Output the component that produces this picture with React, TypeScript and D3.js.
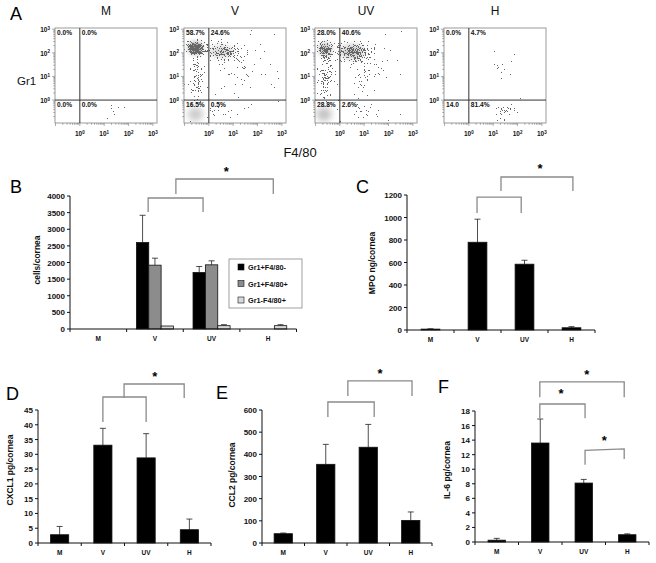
import React from "react";
import * as d3 from "d3";

// ---------- DATA ----------
const groups = ["M", "V", "UV", "H"];

// Panel A: flow cytometry quadrant percentages (per group)
const quadUL = ["0.0%", "58.7%", "28.0%", "0.0%"];
const quadUR = ["0.0%", "24.6%", "40.6%", "4.7%"];
const quadLL = ["0.0%", "16.5%", "28.8%", "14.0"];
const quadLR = ["0.0%", "0.5%", "2.6%", "81.4%"];
const flowTickExps = [0, 1, 2, 3];
// density clusters: [plot index, log10 F4/80, log10 Gr1, spread x (decades), spread y (decades), density]
const flowClusters: number[][] = [
  [1, -0.55, 2.2, 0.35, 0.28, 1.0],
  [1, -0.5, 2.15, 0.22, 0.18, 1.0],
  [1, 0.6, 2.05, 0.75, 0.35, 0.65],
  [1, -0.5, 1.0, 0.25, 0.9, 0.5],
  [1, 1.4, 1.3, 0.7, 0.8, 0.22],
  [1, 0.6, -0.5, 0.8, 0.25, 0.22],
  [2, -0.6, 2.15, 0.32, 0.32, 0.85],
  [2, 0.55, 2.05, 0.65, 0.38, 0.8],
  [2, -0.55, 1.0, 0.3, 0.9, 0.55],
  [2, 1.1, 1.2, 0.7, 0.8, 0.28],
  [2, 0.8, -0.5, 0.8, 0.25, 0.28],
  [3, 1.5, -0.45, 0.4, 0.3, 0.42],
  [3, 1.3, 1.4, 0.3, 0.3, 0.12],
  [0, 1.5, -0.4, 0.25, 0.25, 0.22],
];
// grey smudges of dense events: [plot, x, y, sx, sy, opacity]
const flowSmudges: number[][] = [
  [1, -0.55, -0.6, 0.32, 0.3, 0.3],
  [2, -0.65, -0.6, 0.32, 0.3, 0.35],
  [1, -0.55, 2.2, 0.25, 0.2, 0.9],
  [1, 0.5, 2.05, 0.5, 0.25, 0.25],
  [2, -0.6, 2.15, 0.25, 0.25, 0.45],
  [2, 0.5, 2.05, 0.5, 0.3, 0.3],
];

// Panel B: cells/cornea
const cellSeries = ["Gr1+F4/80-", "Gr1+F4/80+", "Gr1-F4/80+"];
const cellsGr1Pos = [0, 2600, 1700, 0];
const cellsGr1PosErr = [0, 820, 180, 0];
const cellsDouble = [0, 1920, 1930, 0];
const cellsDoubleErr = [0, 210, 120, 0];
const cellsF480Pos = [0, 90, 100, 100];
const cellsF480PosErr = [0, 0, 30, 30];
const cellsTicks = [0, 500, 1000, 1500, 2000, 2500, 3000, 3500, 4000];

// Panel C: MPO ng/cornea
const mpo = [8, 780, 585, 20];
const mpoErr = [3, 205, 35, 10];
const mpoTicks = [0, 200, 400, 600, 800, 1000, 1200];

// Panel D: CXCL1 pg/cornea
const cxcl1 = [2.8, 33.1, 28.8, 4.5];
const cxcl1Err = [2.8, 5.7, 8.2, 3.6];
const cxcl1Ticks = [0, 5, 10, 15, 20, 25, 30, 35, 40, 45];

// Panel E: CCL2 pg/cornea
const ccl2 = [42, 355, 432, 102];
const ccl2Err = [3, 90, 103, 38];
const ccl2Ticks = [0, 100, 200, 300, 400, 500, 600];

// Panel F: IL-6 pg/cornea
const il6 = [0.25, 13.6, 8.1, 1.0];
const il6Err = [0.25, 3.3, 0.5, 0.12];
const il6Ticks = [0, 2, 4, 6, 8, 10, 12, 14, 16, 18];

// significance brackets: [x1, x2 (category units 0..4), leftTop, rightTop, leftLeg, rightLeg (value units)]
const bracketsB = [
  [1.38, 2.35, 3940, 3940, 3519, 3519],
  [1.87, 3.59, 4511, 4511, 4060, 4060],
];
const starsB = [[2.76, 4782]];
const bracketsC = [
  [1.49, 2.43, 1182, 1182, 1040, 1040],
  [2.0, 3.53, 1360, 1360, 1236, 1236],
];
const starsC = [[2.83, 1449]];
const bracketsD = [
  [1.5, 2.5, 49.4, 49.4, 40.9, 40.9],
  [1.99, 3.38, 53.8, 53.8, 49.1, 49.1],
];
const starsD = [[2.7, 56.8]];
const bracketsE = [
  [1.55, 2.64, 636, 636, 568, 568],
  [2.02, 3.53, 731, 731, 663, 663],
];
const starsE = [[2.78, 771]];
const bracketsF = [
  [1.49, 3.43, 22.0, 22.0, 19.9, 19.9],
  [1.49, 2.53, 18.96, 18.96, 17.0, 17.0],
  [2.53, 3.43, 12.6, 12.8, 10.6, 11.4],
];
const starsF = [[2.57, 23.2], [1.98, 20.6], [2.97, 14.1]];

// ---------- RENDERING ----------
const FONT = "'Liberation Sans', Arial, sans-serif";

function Sup({ x, y, exp, anchor }: { x: number; y: number; exp: number; anchor: string }) {
  return (
    <text x={x} y={y} fontSize={6.5} fontWeight="bold" textAnchor={anchor} fontFamily={FONT} fill="#111">
      10<tspan fontSize={4.5} dy={-2.5}>{exp}</tspan>
    </text>
  );
}

function FlowPlot({ idx, left }: { idx: number; left: number }) {
  const top = 28, bottom = 123, right = left + 102;
  const x = d3.scaleLinear().domain([-1.02, 3.17]).range([left, right]);
  const y = d3.scaleLinear().domain([-0.97, 3.05]).range([bottom, top]);
  const pxDec = x(1) - x(0);
  const pyDec = y(0) - y(1);
  const minor: number[] = [];
  for (let e = -1; e < 3.2; e++) for (let m = 1; m < 10; m++) minor.push(e + Math.log10(m));
  const clusters = flowClusters.filter((c) => c[0] === idx);
  const smudges = flowSmudges.filter((c) => c[0] === idx);
  const cx = (left + right) / 2;
  return (
    <g>
      <text x={cx} y={15} textAnchor="middle" fontSize={12} fontFamily={FONT} fill="#111">{groups[idx]}</text>
      <defs>
        <clipPath id={`clip${idx}`}>
          <rect x={left} y={top} width={right - left} height={bottom - top} />
        </clipPath>
      </defs>
      <g clipPath={`url(#clip${idx})`}>
        {smudges.map((c, i) => (
          <ellipse key={"s" + i} cx={x(c[1])} cy={y(c[2])} rx={c[3] * pxDec} ry={c[4] * pyDec}
            fill="#5a5a5a" opacity={c[5]} filter="url(#soft)" />
        ))}
        <g filter={`url(#speckle${idx})`}>
          {clusters.map((c, i) => (
            <ellipse key={i} cx={x(c[1])} cy={y(c[2])} rx={c[3] * pxDec * 1.6} ry={c[4] * pyDec * 1.6}
              fill="url(#dens)" opacity={c[5]} />
          ))}
        </g>
      </g>
      <rect x={left} y={top} width={right - left} height={bottom - top} fill="none" stroke="#9a9a9a" strokeWidth={1} />
      <line x1={x(0)} x2={x(0)} y1={top} y2={bottom} stroke="#333" strokeWidth={1} />
      <line x1={left} x2={right} y1={y(0)} y2={y(0)} stroke="#333" strokeWidth={1} />
      {minor.filter((e) => e >= -1.02 && e <= 3.17).map((e, i) => {
        const major = Math.abs(e - Math.round(e)) < 1e-9;
        return <line key={"mx" + i} x1={x(e)} x2={x(e)} y1={bottom} y2={bottom + (major ? 3 : 1.8)} stroke="#777" strokeWidth={0.6} />;
      })}
      {minor.filter((e) => e >= -0.97 && e <= 3.05).map((e, i) => {
        const major = Math.abs(e - Math.round(e)) < 1e-9;
        return <line key={"my" + i} y1={y(e)} y2={y(e)} x1={left} x2={left - (major ? 3 : 1.8)} stroke="#777" strokeWidth={0.6} />;
      })}
      {flowTickExps.map((e) => (
        <Sup key={"tx" + e} x={x(e)} y={bottom + 13} exp={e} anchor="middle" />
      ))}
      {flowTickExps.map((e) => (
        <Sup key={"ty" + e} x={left - 5} y={y(e) + 3} exp={e} anchor="end" />
      ))}
      <g fontSize={6.6} fontWeight="bold" fontFamily={FONT} fill="#111">
        <text x={left + 2} y={35}>{quadUL[idx]}</text>
        <text x={x(0) + 2} y={35}>{quadUR[idx]}</text>
        <text x={left + 2} y={107}>{quadLL[idx]}</text>
        <text x={x(0) + 2} y={107}>{quadLR[idx]}</text>
      </g>
    </g>
  );
}

type PanelProps = {
  letter: string; letterX: number; letterY: number;
  left: number; right: number; zeroY: number; topY: number; max: number;
  ticks: number[];
  series: number[][]; errors: number[][]; fills: string[];
  groupFrac: number;
  ylabel: string; ylabelX: number; ylabelY: number;
  brackets: number[][]; stars: number[][];
  children?: React.ReactNode;
};

function BarPanel(p: PanelProps) {
  const xb = d3.scaleBand().domain(groups).range([p.left, p.right]);
  const xu = d3.scaleLinear().domain([0, 4]).range([p.left, p.right]);
  const y = d3.scaleLinear().domain([0, p.max]).range([p.zeroY, p.topY]);
  const gw = xb.bandwidth() * p.groupFrac;
  const inner = d3.scaleBand<number>().domain(p.series.map((_, i) => i)).range([0, gw]);
  const bounds = [...groups.map((g) => xb(g) as number), p.right];
  return (
    <g fontFamily={FONT}>
      <text x={p.letterX} y={p.letterY} fontSize={18} fill="#000">{p.letter}</text>
      {p.series.map((s, si) =>
        s.map((v, gi) => {
          if (v <= 0) return null;
          const x0 = (xb(groups[gi]) as number) + (xb.bandwidth() - gw) / 2 + (inner(si) as number);
          const w = inner.bandwidth();
          const e = p.errors[si][gi];
          const xc = x0 + w / 2;
          return (
            <g key={si + "-" + gi}>
              {e > 0 && (
                <g stroke="#222" strokeWidth={0.8}>
                  <line x1={xc} x2={xc} y1={y(v)} y2={y(v + e)} />
                  <line x1={xc - 3} x2={xc + 3} y1={y(v + e)} y2={y(v + e)} />
                </g>
              )}
              <rect x={x0} y={y(v)} width={w} height={p.zeroY - y(v)} fill={p.fills[si]} stroke="#111" strokeWidth={0.8} />
            </g>
          );
        })
      )}
      <line x1={p.left} x2={p.left} y1={p.topY} y2={p.zeroY} stroke="#111" strokeWidth={1} />
      <line x1={p.left} x2={p.right} y1={p.zeroY} y2={p.zeroY} stroke="#111" strokeWidth={1} />
      {p.ticks.map((t) => (
        <g key={"t" + t}>
          <line x1={p.left - 3} x2={p.left} y1={y(t)} y2={y(t)} stroke="#111" strokeWidth={1} />
          <text x={p.left - 5} y={y(t) + 3} fontSize={8} fontWeight="bold" textAnchor="end" fill="#111">{t}</text>
        </g>
      ))}
      {bounds.map((b, i) => (
        <line key={"b" + i} x1={b} x2={b} y1={p.zeroY} y2={p.zeroY + 3} stroke="#111" strokeWidth={1} />
      ))}
      {groups.map((g) => (
        <text key={g} x={(xb(g) as number) + xb.bandwidth() / 2} y={p.zeroY + 12} fontSize={6.5} fontWeight="bold" textAnchor="middle" fill="#111">{g}</text>
      ))}
      <text transform={`translate(${p.ylabelX},${p.ylabelY}) rotate(-90)`} textAnchor="middle" fontSize={8.5} fontWeight="bold" fill="#111">{p.ylabel}</text>
      {p.brackets.map((b, i) => (
        <path key={"k" + i}
          d={`M${xu(b[0])},${y(b[4])}L${xu(b[0])},${y(b[2])}L${xu(b[1])},${y(b[3])}L${xu(b[1])},${y(b[5])}`}
          fill="none" stroke="#8a8a8a" strokeWidth={1.3} />
      ))}
      {p.stars.map((s, i) => (
        <text key={"s" + i} x={xu(s[0])} y={y(s[1]) + 6} fontSize={13} fontWeight="bold" textAnchor="middle" fill="#000">*</text>
      ))}
      {p.children}
    </g>
  );
}

function SpeckleFilter({ id, seed }: { id: string; seed: number }) {
  return (
    <filter id={id} x="-10%" y="-10%" width="120%" height="120%" colorInterpolationFilters="sRGB">
      <feTurbulence type="fractalNoise" baseFrequency="1.3" numOctaves="1" seed={seed} result="noise" />
      <feColorMatrix in="noise" type="matrix"
        values="0 0 0 0 0  0 0 0 0 0  0 0 0 0 0  2.4 0 0 0 -0.6" result="na" />
      <feComposite in="SourceGraphic" in2="na" operator="arithmetic" k1="0" k2="1" k3="-1" k4="0.5" result="diff" />
      <feComponentTransfer in="diff" result="mask">
        <feFuncA type="discrete" tableValues="0 1" />
      </feComponentTransfer>
      <feFlood floodColor="#666" result="ink" />
      <feComposite in="ink" in2="mask" operator="in" />
    </filter>
  );
}

export default function App() {
  const flowLefts = [55, 184, 315, 444];
  const legendFills = ["#000", "#8c8c8c", "#d9d9d9"];
  return (
    <svg width={656} height={563} style={{ position: "absolute", left: 0, top: 0, background: "#fff" }}
      xmlns="http://www.w3.org/2000/svg">
      <defs>
        <radialGradient id="dens">
          <stop offset="0%" stopColor="#000" stopOpacity={1} />
          <stop offset="40%" stopColor="#000" stopOpacity={0.6} />
          <stop offset="100%" stopColor="#000" stopOpacity={0} />
        </radialGradient>
        <filter id="soft" x="-50%" y="-50%" width="200%" height="200%">
          <feGaussianBlur stdDeviation="3" />
        </filter>
        {[0, 1, 2, 3].map((i) => <SpeckleFilter key={i} id={`speckle${i}`} seed={3 + i * 7} />)}
      </defs>

      {/* Panel A */}
      <text x={10} y={20} fontSize={18} fontFamily={FONT} fill="#000">A</text>
      {flowLefts.map((l, i) => <FlowPlot key={i} idx={i} left={l} />)}
      <text x={17} y={85} fontSize={11.5} fontFamily={FONT} fill="#111">Gr1</text>
      <text x={300} y={157} fontSize={13} textAnchor="middle" fontFamily={FONT} fill="#111">F4/80</text>

      {/* Panel B */}
      <BarPanel letter="B" letterX={10} letterY={193} left={70} right={296.5} zeroY={329} topY={196} max={4000}
        ticks={cellsTicks}
        series={[cellsGr1Pos, cellsDouble, cellsF480Pos]}
        errors={[cellsGr1PosErr, cellsDoubleErr, cellsF480PosErr]}
        fills={legendFills} groupFrac={0.655}
        ylabel="cells/cornea" ylabelX={40} ylabelY={260}
        brackets={bracketsB} stars={starsB}>
        <g fontFamily={FONT}>
          <rect x={229} y={259} width={73} height={49} fill="#fff" stroke="#888" strokeWidth={0.8} />
          {cellSeries.map((s, i) => (
            <g key={s}>
              <rect x={238} y={264 + i * 16.5} width={6} height={6} fill={legendFills[i]} stroke="#111" strokeWidth={0.6} />
              <text x={248} y={270 + i * 16.5} fontSize={7.3} fontWeight="bold" fill="#111">{s}</text>
            </g>
          ))}
        </g>
      </BarPanel>

      {/* Panel C */}
      <BarPanel letter="C" letterX={356} letterY={193} left={407} right={595} zeroY={330} topY={195} max={1200}
        ticks={mpoTicks} series={[mpo]} errors={[mpoErr]} fills={["#000"]} groupFrac={0.4}
        ylabel="MPO ng/cornea" ylabelX={375} ylabelY={263}
        brackets={bracketsC} stars={starsC} />

      {/* Panel D */}
      <BarPanel letter="D" letterX={6} letterY={400} left={38} right={211} zeroY={543} topY={410} max={45}
        ticks={cxcl1Ticks} series={[cxcl1]} errors={[cxcl1Err]} fills={["#000"]} groupFrac={0.42}
        ylabel="CXCL1 pg/cornea" ylabelX={13} ylabelY={470}
        brackets={bracketsD} stars={starsD} />

      {/* Panel E */}
      <BarPanel letter="E" letterX={216} letterY={399} left={262} right={432} zeroY={543} topY={410} max={600}
        ticks={ccl2Ticks} series={[ccl2]} errors={[ccl2Err]} fills={["#000"]} groupFrac={0.43}
        ylabel="CCL2 pg/cornea" ylabelX={235} ylabelY={475}
        brackets={bracketsE} stars={starsE} />

      {/* Panel F */}
      <BarPanel letter="F" letterX={438} letterY={393} left={475} right={649} zeroY={542} topY={411} max={18}
        ticks={il6Ticks} series={[il6]} errors={[il6Err]} fills={["#000"]} groupFrac={0.4}
        ylabel="IL-6 pg/cornea" ylabelX={450} ylabelY={470}
        brackets={bracketsF} stars={starsF} />
    </svg>
  );
}
